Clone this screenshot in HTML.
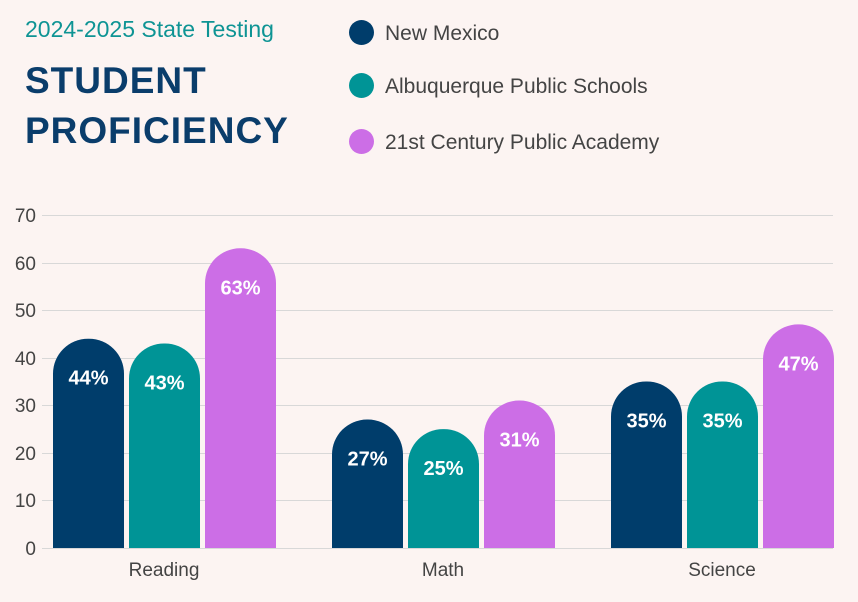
<!DOCTYPE html>
<html><head><meta charset="utf-8"><style>
html,body{margin:0;padding:0;background:#fcf4f2;}
body{width:858px;height:602px;overflow:hidden;position:relative;font-family:"Liberation Sans",sans-serif;}
.t1{position:absolute;left:25px;top:16px;font-size:23px;color:#0e9494;}
.t2{position:absolute;left:25px;top:56px;font-size:37px;font-weight:900;color:#0a3d6b;line-height:50px;letter-spacing:1px;}
.lg{position:absolute;left:349px;font-size:21px;color:#444;}
.lg span{display:inline-block;width:25px;height:25px;border-radius:50%;vertical-align:middle;margin-right:11px;position:relative;top:-2px;}
</style></head><body>
<div class="t1">2024-2025 State Testing</div>
<div class="t2">STUDENT<br>PROFICIENCY</div>
<div class="lg" style="top:22px"><span style="background:#003d6b"></span>New Mexico</div>
<div class="lg" style="top:75px"><span style="background:#009496"></span>Albuquerque Public Schools</div>
<div class="lg" style="top:131px"><span style="background:#cc6ee6"></span>21st Century Public Academy</div>
<svg width="858" height="602" style="position:absolute;left:0;top:0" font-family="Liberation Sans, sans-serif">
<g stroke="#d8d8d8" stroke-width="1">
<line x1="42" x2="833" y1="215.5" y2="215.5"/><line x1="42" x2="833" y1="263.5" y2="263.5"/>
<line x1="42" x2="833" y1="310.5" y2="310.5"/><line x1="42" x2="833" y1="358.5" y2="358.5"/>
<line x1="42" x2="833" y1="405.5" y2="405.5"/><line x1="42" x2="833" y1="453.5" y2="453.5"/>
<line x1="42" x2="833" y1="500.5" y2="500.5"/><line x1="42" x2="833" y1="548.5" y2="548.5"/>
</g>
<g font-size="19" fill="#444" text-anchor="end">
<text x="36" y="222">70</text><text x="36" y="270">60</text><text x="36" y="317">50</text>
<text x="36" y="365">40</text><text x="36" y="412">30</text><text x="36" y="460">20</text>
<text x="36" y="507">10</text><text x="36" y="555">0</text>
</g>
<g font-size="19" fill="#444" text-anchor="middle">
<text x="164" y="576">Reading</text><text x="443" y="576">Math</text><text x="722" y="576">Science</text>
</g>
<g id="bars"></g>
</svg>
<script>
var d=[[53,44,"#003d6b"],[129,43,"#009496"],[205,63,"#cc6ee6"],[332,27,"#003d6b"],[408,25,"#009496"],[484,31,"#cc6ee6"],[611,35,"#003d6b"],[687,35,"#009496"],[763,47,"#cc6ee6"]];
var g=document.getElementById("bars"),s="";
d.forEach(function(b){var x=b[0],w=71,top=548-b[1]*4.757,r=35;
s+='<path d="M'+x+' 548 V'+(top+r)+' A'+r+' '+r+' 0 0 1 '+(x+r)+' '+top+' H'+(x+w-r)+' A'+r+' '+r+' 0 0 1 '+(x+w)+' '+(top+r)+' V548 Z" fill="'+b[2]+'"/>';
s+='<text x="'+(x+w/2)+'" y="'+(top+46)+'" fill="#fff" font-size="20" font-weight="bold" text-anchor="middle">'+b[1]+'%</text>';});
g.innerHTML=s;
</script>
</body></html>
